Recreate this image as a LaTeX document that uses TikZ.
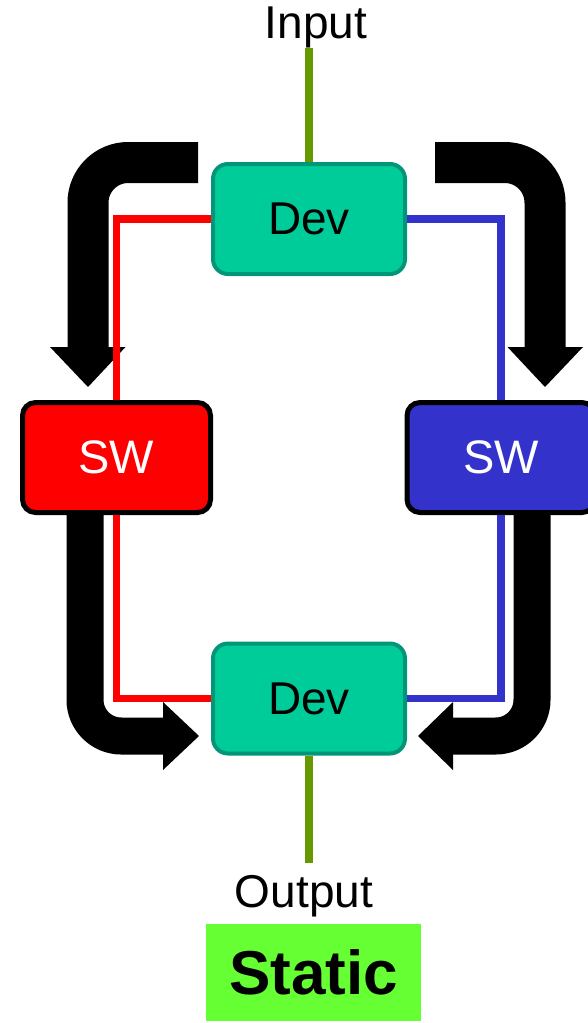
\documentclass[tikz,border=0pt]{standalone}
\usepackage{fontspec}
\setmainfont{Liberation Sans}
\definecolor{devfill}{HTML}{00CC99}
\definecolor{devedge}{HTML}{009677}
\definecolor{swblue}{HTML}{3333CC}
\definecolor{ioline}{HTML}{669900}
\definecolor{statfill}{HTML}{66FF33}
\begin{document}
\begin{tikzpicture}[x=0.5pt, y=-0.5pt,
  dev/.style={draw=devedge, fill=devfill, line width=2pt, rounded corners=7.5pt,
    minimum width=96pt, minimum height=55pt, font=\fontsize{23}{27}\selectfont},
  sw/.style={draw=black, line width=2.5pt, rounded corners=6.5pt,
    minimum width=94pt, minimum height=55pt, text=white, font=\fontsize{23.5}{27}\selectfont},
  fat/.style={line width=#1, rounded corners=0.98*#1},
  wire/.style={line width=3.6pt}]
  \useasboundingbox (0,0) rectangle (588,1023);

  % boxes
  \node[dev] (top) at (309,219) {Dev};
  \node[dev] (bot) at (309,698.5) {Dev};
  \node[sw, fill=red] (lsw) at (116.5,457.5) {SW};
  \node[sw, fill=swblue] (rsw) at (501,457.5) {SW};
  \node[anchor=base, font=\fontsize{23}{27}\selectfont] (inp) at (316,38) {Input};
  \node[anchor=base, font=\fontsize{23}{27}\selectfont] (outp) at (304,907) {Output};
  \node[fill=statfill, minimum width=107.5pt, minimum height=48.5pt,
    font=\fontsize{31}{35}\bfseries] (stat) at (313.5,972.5) {Static};
  \coordinate (intop) at (309,48);
  \coordinate (outbot) at (309,863);

  % big flow arrows
  \draw[fat=20.5pt] (198,162.5) -- (88,162.5) -- (88,349);
  \fill (50,347) -- (125.5,347) -- (88,387) -- cycle;
  \draw[fat=20.5pt] (435,162.5) -- (545,162.5) -- (545,349);
  \fill (507.5,347) -- (583,347) -- (545,387) -- cycle;
  \draw[fat=18.5pt] (85,515) -- (85,736) -- (165,736);
  \fill (163,702) -- (163,770) -- (199,736) -- cycle;
  \draw[fat=18.5pt] (532,515) -- (532,736) -- (451,736);
  \fill (453,702) -- (453,770) -- (418,736) -- cycle;

  % signal paths
  \draw[wire, red] (top.west) -| (lsw.north);
  \draw[wire, red] (lsw.south) |- (bot.west);
  \draw[wire, swblue] (top.east) -| (rsw.north);
  \draw[wire, swblue] (rsw.south) |- (bot.east);
  \draw[wire, ioline] (intop) -- (top.north);
  \draw[wire, ioline] (bot.south) -- (outbot);
\end{tikzpicture}
\end{document}
